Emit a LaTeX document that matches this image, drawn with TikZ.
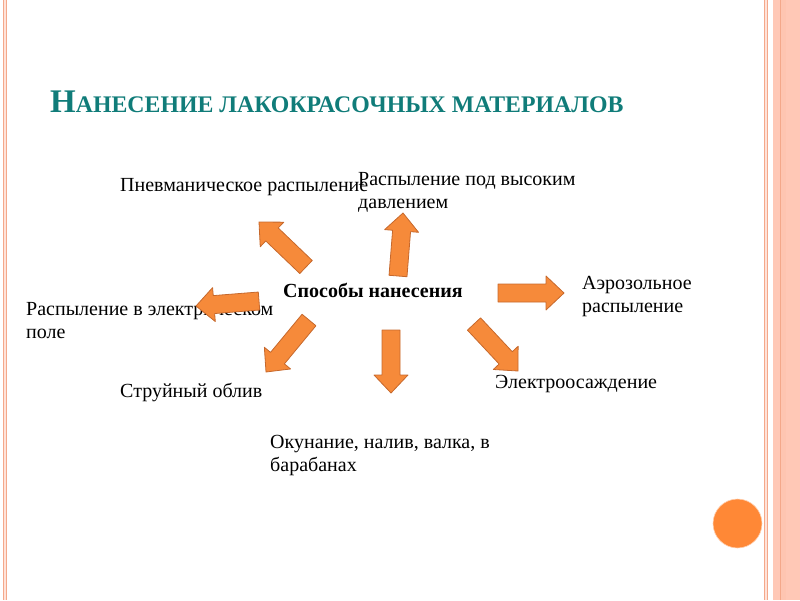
\documentclass[tikz,border=0pt]{standalone}
\usepackage{fontspec}
\setmainfont{Liberation Serif}
\usepackage{tikz}
\usetikzlibrary{calc}

\definecolor{titleteal}{RGB}{16,124,121}
\definecolor{arrowfill}{RGB}{246,138,58}
\definecolor{arrowline}{RGB}{198,104,44}
\definecolor{framepale}{RGB}{255,226,216}
\definecolor{framepeach}{RGB}{255,200,182}
\definecolor{frameline}{RGB}{244,168,138}
\definecolor{dotorange}{RGB}{255,136,54}

% block arrow from a tail point to a tip point
\newcommand{\blockarrow}[3]{%
    \coordinate (#1-tail) at #2;
    \coordinate (#1-tip) at #3;
    % Base of the arrow head
    \coordinate (#1-base) at ($(#1-tip)!18pt!(#1-tail)$);
    \filldraw[arrow_body]
        ($(#1-tail)!9pt!90:(#1-tip)$) -- ($(#1-base)!9pt!90:(#1-tip)$)
        -- ($(#1-base)!17pt!90:(#1-tip)$) -- (#1-tip)
        -- ($(#1-base)!17pt!-90:(#1-tip)$) -- ($(#1-base)!9pt!-90:(#1-tip)$)
        -- ($(#1-tail)!9pt!-90:(#1-tip)$) -- cycle;
}

\begin{document}
\begin{tikzpicture}[
        x=1pt, y=-1pt,
        label_text/.style={font=\fontsize{20}{23}\selectfont, anchor=base west, inner sep=0pt, align=left},
        arrow_body/.style={fill=arrowfill, draw=arrowline, line width=0.8pt, line join=round}
    ]
    \useasboundingbox (0,0) rectangle (800,600);

    % =========================================================================
    % 1. PAGE FRAME
    % =========================================================================
    \fill[framepale] (2.5,0) rectangle (6.3,600);
    \draw[frameline, line width=0.6pt] (2.8,0) -- (2.8,600);
    \draw[frameline, line width=0.6pt] (6.0,0) -- (6.0,600);
    \fill[framepale] (764,0) rectangle (768,600);
    \draw[frameline, line width=0.5pt] (764.3,0) -- (764.3,600);
    \draw[frameline, line width=0.5pt] (767.7,0) -- (767.7,600);
    \fill[framepeach] (772.5,0) rectangle (800,600);
    \fill[framepeach!90!frameline] (781,0) rectangle (786,600);
    \draw[frameline, line width=1.2pt] (780.5,0) -- (780.5,600);

    % Orange dot
    \node[circle, fill=dotorange, draw=dotorange!40, line width=0.6pt, minimum size=49pt, inner sep=0pt] (dot) at (737.5,523.5) {};

    % =========================================================================
    % 2. TITLE AND TEXTS (base anchor sits on the last line)
    % =========================================================================
    \node[anchor=base west, inner sep=0pt, text=titleteal, font=\bfseries] (title) at (50,112)
        {{\fontsize{33}{36}\selectfont Н}{\fontsize{23.8}{28}\selectfont АНЕСЕНИЕ ЛАКОКРАСОЧНЫХ МАТЕРИАЛОВ}};

    \node[label_text, font=\fontsize{20}{23}\selectfont\bfseries] (ways) at (283,297) {Способы нанесения};

    \node[label_text] (pneum) at (120,191) {Пневманическое распыление};
    \node[label_text] (high) at (358,208) {Распыление под высоким\\давлением};
    \node[label_text] (aero) at (582,312) {Аэрозольное\\распыление};
    \node[label_text] (field) at (26,338) {Распыление в электрическом\\поле};
    \node[label_text] (jet) at (120,397) {Струйный облив};
    \node[label_text] (depo) at (495,388) {Электроосаждение};
    \node[label_text] (dip) at (270,471) {Окунание, налив, валка, в\\барабанах};

    % =========================================================================
    % 3. BLOCK ARROWS
    % =========================================================================
    \blockarrow{toPneum}{(306,267)}{(259,222)}
    \blockarrow{toHigh}{(398,276)}{(403,213)}
    \blockarrow{toAero}{(498,293)}{(564,293)}
    \blockarrow{toField}{(259,301)}{(196,306)}
    \blockarrow{toJet}{(309,320)}{(266,372)}
    \blockarrow{toDip}{(391,330)}{(391,393)}
    \blockarrow{toDepo}{(474,324)}{(518,371)}

\end{tikzpicture}
\end{document}
